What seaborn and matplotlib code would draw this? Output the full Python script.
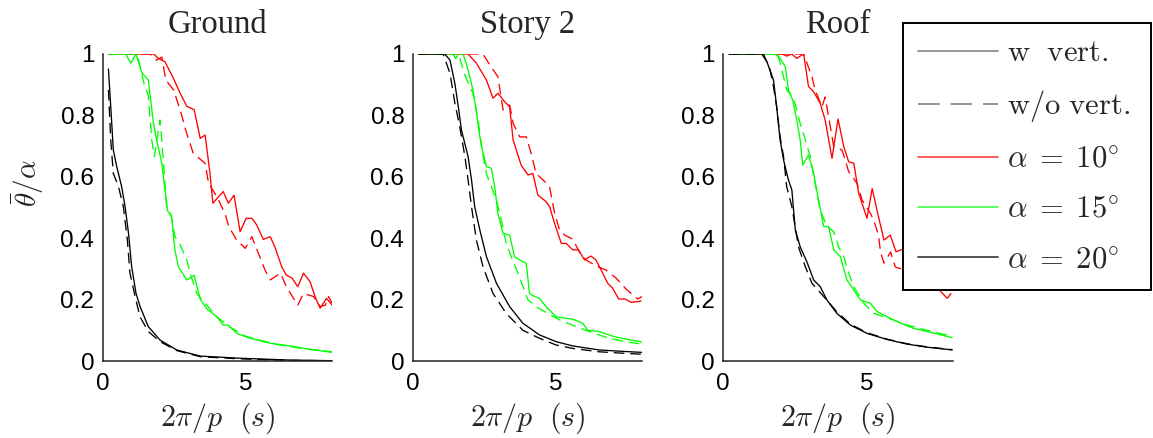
import numpy as np
import pandas as pd
import matplotlib
matplotlib.use("Agg")
import matplotlib.pyplot as plt
from matplotlib.lines import Line2D
import seaborn as sns

# ---------------- data ----------------
panels = ["Ground", "Story 2", "Roof"]
x_ticks = [0, 5]
x_tick_labels = ["0", "5"]
y_ticks = [0, 0.2, 0.4, 0.6, 0.8, 1.0]
y_tick_labels = ["0", "0.2", "0.4", "0.6", "0.8", "1"]

# Ground
g_a20_w_x = [0.2, 0.28, 0.37, 0.49, 0.66, 0.78, 0.9, 1.01, 1.16, 1.3, 1.59, 2.0, 2.58, 3.4, 4.79, 6.53, 8.0]
g_a20_w_y = [0.951, 0.829, 0.687, 0.633, 0.568, 0.503, 0.416, 0.307, 0.221, 0.178, 0.112, 0.068, 0.036, 0.016, 0.009, 0.003, 0.001]
g_a20_wo_x = [0.2, 0.28, 0.37, 0.55, 0.72, 0.86, 0.95, 1.13, 1.3, 1.59, 2.0, 2.58, 3.4, 4.79, 6.53, 8.0]
g_a20_wo_y = [0.883, 0.72, 0.611, 0.568, 0.503, 0.394, 0.286, 0.21, 0.144, 0.096, 0.063, 0.034, 0.014, 0.007, 0.002, 0.001]
g_a15_w_x = [0.2, 0.8, 0.98, 1.16, 1.36, 1.59, 1.77, 1.88, 2.06, 2.17, 2.26, 2.4, 2.52, 2.64, 2.93, 3.19, 3.4, 3.63, 3.98, 4.2, 4.38, 4.67, 5.14, 5.84, 6.53, 7.23, 8.0]
g_a15_w_y = [1, 1, 0.97, 1, 0.94, 0.915, 0.774, 0.72, 0.644, 0.557, 0.49, 0.47, 0.36, 0.307, 0.264, 0.279, 0.2, 0.17, 0.144, 0.117, 0.117, 0.09, 0.074, 0.058, 0.049, 0.038, 0.028]
g_a15_wo_x = [0.2, 1.2, 1.45, 1.59, 1.71, 1.8, 2.0, 2.06, 2.17, 2.23, 2.38, 2.52, 2.7, 2.93, 3.05, 3.28, 3.57, 3.98, 4.4, 5.0, 6.0, 7.0, 8.0]
g_a15_wo_y = [1, 1, 0.9, 0.866, 0.72, 0.666, 0.785, 0.72, 0.58, 0.503, 0.476, 0.405, 0.378, 0.33, 0.286, 0.22, 0.188, 0.144, 0.112, 0.08, 0.055, 0.04, 0.03]
g_a10_w_x = [0.2, 1.77, 1.94, 2.17, 2.47, 2.7, 2.93, 3.19, 3.4, 3.57, 3.74, 3.84, 4.2, 4.38, 4.58, 4.79, 5.0, 5.2, 5.37, 5.6, 5.84, 6.0, 6.24, 6.4, 6.6, 6.8, 7.0, 7.23, 7.4, 7.58, 7.8, 8.0]
g_a10_w_y = [1, 1, 0.986, 0.975, 0.92, 0.872, 0.83, 0.818, 0.725, 0.736, 0.611, 0.514, 0.552, 0.514, 0.54, 0.421, 0.465, 0.465, 0.443, 0.396, 0.405, 0.372, 0.307, 0.28, 0.27, 0.242, 0.286, 0.258, 0.21, 0.172, 0.204, 0.182]
g_a10_wo_x = [0.2, 1.65, 1.88, 2.06, 2.2, 2.47, 2.7, 2.93, 3.16, 3.57, 3.69, 3.98, 4.26, 4.4, 4.67, 4.97, 5.2, 5.43, 5.66, 5.84, 6.2, 6.4, 6.8, 7.0, 7.35, 7.58, 7.76, 7.87, 8.0]
g_a10_wo_y = [1, 1, 0.98, 0.99, 0.915, 0.883, 0.818, 0.74, 0.676, 0.644, 0.579, 0.535, 0.481, 0.437, 0.394, 0.367, 0.405, 0.35, 0.296, 0.264, 0.286, 0.242, 0.182, 0.22, 0.21, 0.177, 0.182, 0.21, 0.188]

# Story 2
s_a20_w_x = [0.2, 1.12, 1.3, 1.47, 1.59, 1.7, 1.93, 2.05, 2.16, 2.34, 2.57, 2.92, 3.38, 3.84, 4.42, 5.0, 5.58, 6.5, 7.2, 8.0]
s_a20_w_y = [1, 1, 0.98, 0.904, 0.828, 0.752, 0.666, 0.59, 0.503, 0.427, 0.34, 0.253, 0.177, 0.123, 0.085, 0.063, 0.049, 0.036, 0.032, 0.028]
s_a20_wo_x = [0.2, 1.06, 1.3, 1.47, 1.64, 1.82, 1.93, 2.05, 2.22, 2.45, 2.8, 3.26, 3.84, 4.42, 5.0, 5.58, 6.5, 7.2, 8.0]
s_a20_wo_y = [1, 1, 0.937, 0.84, 0.763, 0.666, 0.59, 0.503, 0.394, 0.307, 0.22, 0.155, 0.1, 0.074, 0.052, 0.041, 0.03, 0.026, 0.022]
s_a15_w_x = [0.2, 1.76, 1.93, 2.1, 2.22, 2.34, 2.43, 2.57, 2.74, 2.86, 2.97, 3.15, 3.38, 3.55, 3.73, 3.96, 4.07, 4.25, 4.42, 4.65, 5.0, 5.58, 5.93, 6.1, 6.5, 7.0, 7.5, 8.0]
s_a15_w_y = [1, 1, 0.948, 0.883, 0.812, 0.73, 0.687, 0.633, 0.628, 0.568, 0.481, 0.416, 0.41, 0.34, 0.329, 0.318, 0.22, 0.21, 0.204, 0.177, 0.144, 0.136, 0.123, 0.1, 0.096, 0.08, 0.07, 0.062]
s_a15_wo_x = [0.2, 1.4, 1.5, 1.6, 1.82, 2.1, 2.28, 2.4, 2.57, 2.92, 3.09, 3.26, 3.5, 3.67, 4.02, 4.3, 4.71, 5.12, 5.69, 6.16, 6.8, 7.4, 8.0]
s_a15_wo_y = [1, 1, 0.985, 1, 0.93, 0.872, 0.785, 0.698, 0.61, 0.524, 0.459, 0.383, 0.324, 0.286, 0.199, 0.177, 0.155, 0.134, 0.112, 0.096, 0.075, 0.063, 0.055]
s_a10_w_x = [0.2, 1.93, 2.22, 2.57, 2.8, 2.97, 3.2, 3.38, 3.5, 3.78, 4.02, 4.19, 4.36, 4.65, 4.77, 4.94, 5.18, 5.35, 5.58, 5.78, 5.99, 6.21, 6.39, 6.57, 6.8, 6.97, 7.18, 7.41, 7.61, 7.96]
s_a10_w_y = [1, 1, 0.97, 0.915, 0.856, 0.872, 0.845, 0.828, 0.72, 0.638, 0.606, 0.611, 0.541, 0.519, 0.503, 0.45, 0.383, 0.383, 0.362, 0.362, 0.329, 0.342, 0.329, 0.296, 0.253, 0.237, 0.202, 0.202, 0.191, 0.195]
s_a10_wo_x = [0.2, 2.45, 2.69, 2.97, 3.15, 3.38, 3.5, 3.73, 3.96, 4.13, 4.3, 4.54, 4.77, 4.95, 5.12, 5.3, 5.58, 5.81, 6.04, 6.4, 6.74, 7.09, 7.44, 7.84, 8.0]
s_a10_wo_y = [1, 1, 0.964, 0.926, 0.818, 0.834, 0.774, 0.73, 0.73, 0.676, 0.611, 0.59, 0.568, 0.48, 0.427, 0.41, 0.397, 0.355, 0.329, 0.31, 0.296, 0.27, 0.234, 0.202, 0.21]

# Roof
r_a20_w_x = [0.2, 1.34, 1.52, 1.75, 1.86, 1.98, 2.1, 2.27, 2.39, 2.51, 2.68, 2.91, 3.15, 3.38, 3.61, 3.96, 4.43, 5.01, 5.71, 6.41, 7.1, 7.98]
r_a20_w_y = [1, 1, 0.975, 0.915, 0.828, 0.72, 0.655, 0.59, 0.557, 0.427, 0.372, 0.324, 0.264, 0.242, 0.199, 0.155, 0.117, 0.09, 0.07, 0.055, 0.045, 0.036]
r_a20_wo_x = [0.2, 1.4, 1.63, 1.75, 1.86, 1.98, 2.1, 2.21, 2.39, 2.62, 2.86, 3.09, 3.5, 3.96, 4.43, 5.01, 5.71, 6.41, 7.1, 7.98]
r_a20_wo_y = [1, 1, 0.948, 0.894, 0.828, 0.73, 0.666, 0.568, 0.503, 0.372, 0.307, 0.253, 0.21, 0.16, 0.12, 0.092, 0.071, 0.056, 0.046, 0.037]
r_a15_w_x = [0.2, 1.8, 1.98, 2.16, 2.27, 2.42, 2.56, 2.68, 2.77, 2.97, 3.15, 3.32, 3.5, 3.67, 3.85, 4.08, 4.31, 4.55, 4.78, 5.13, 5.36, 5.71, 6.18, 6.64, 7.11, 7.46, 7.98]
r_a15_w_y = [1, 1, 0.986, 0.959, 0.883, 0.85, 0.785, 0.72, 0.638, 0.671, 0.611, 0.524, 0.438, 0.438, 0.362, 0.34, 0.264, 0.231, 0.199, 0.188, 0.161, 0.144, 0.123, 0.106, 0.096, 0.088, 0.076]
r_a15_wo_x = [0.2, 1.9, 2.04, 2.21, 2.45, 2.68, 2.86, 3.03, 3.2, 3.38, 3.61, 3.85, 4.02, 4.2, 4.37, 4.55, 4.9, 5.24, 5.77, 6.41, 7.11, 7.98]
r_a15_wo_y = [1, 1, 0.948, 0.883, 0.856, 0.774, 0.72, 0.666, 0.579, 0.492, 0.438, 0.421, 0.372, 0.34, 0.286, 0.242, 0.188, 0.155, 0.139, 0.117, 0.1, 0.08]
r_a10_w_x = [0.2, 2.05, 2.21, 2.38, 2.56, 2.8, 2.97, 3.15, 3.38, 3.55, 3.79, 4.0, 4.2, 4.37, 4.55, 4.72, 5.01, 5.19, 5.36, 5.6, 5.82, 6.02, 6.25, 6.5, 6.8, 7.1, 7.4, 7.58, 7.81, 7.93]
r_a10_w_y = [1, 1, 0.993, 1, 0.986, 1, 0.894, 0.877, 0.839, 0.785, 0.66, 0.788, 0.698, 0.649, 0.644, 0.546, 0.465, 0.562, 0.49, 0.394, 0.41, 0.356, 0.364, 0.33, 0.31, 0.28, 0.25, 0.226, 0.204, 0.22]
r_a10_wo_x = [0.2, 2.8, 3.09, 3.2, 3.44, 3.55, 3.67, 3.85, 4.14, 4.37, 4.66, 4.84, 5.13, 5.24, 5.41, 5.48, 5.6, 5.83, 6.0, 6.2, 6.5, 7.0, 7.5, 7.8, 8.0]
r_a10_wo_y = [1, 1, 0.926, 0.883, 0.828, 0.86, 0.796, 0.698, 0.687, 0.617, 0.579, 0.524, 0.481, 0.459, 0.41, 0.355, 0.319, 0.355, 0.306, 0.3, 0.29, 0.27, 0.25, 0.235, 0.24]

legend_labels = [r"$\mathrm{w\ \ vert.}$", r"$\mathrm{w/o\ vert.}$",
                 r"$\alpha\;=\;10^{\circ}$", r"$\alpha\;=\;15^{\circ}$", r"$\alpha\;=\;20^{\circ}$"]

# ---------------- styling ----------------
sns.set_theme(style="white")
plt.rcParams["font.family"] = ["Liberation Sans", "DejaVu Sans"]
plt.rcParams["mathtext.fontset"] = "cm"

RED, GREEN, BLACK = "#ff0000", "#00ff00", "#000000"
LW = 0.95
DASH = (0, (8, 4.5))

curves = {
    "Ground": [(g_a10_w_x, g_a10_w_y, g_a10_wo_x, g_a10_wo_y, RED),
               (g_a15_w_x, g_a15_w_y, g_a15_wo_x, g_a15_wo_y, GREEN),
               (g_a20_w_x, g_a20_w_y, g_a20_wo_x, g_a20_wo_y, BLACK)],
    "Story 2": [(s_a10_w_x, s_a10_w_y, s_a10_wo_x, s_a10_wo_y, RED),
                (s_a15_w_x, s_a15_w_y, s_a15_wo_x, s_a15_wo_y, GREEN),
                (s_a20_w_x, s_a20_w_y, s_a20_wo_x, s_a20_wo_y, BLACK)],
    "Roof": [(r_a10_w_x, r_a10_w_y, r_a10_wo_x, r_a10_wo_y, RED),
             (r_a15_w_x, r_a15_w_y, r_a15_wo_x, r_a15_wo_y, GREEN),
             (r_a20_w_x, r_a20_w_y, r_a20_wo_x, r_a20_wo_y, BLACK)],
}

W, H = 1153, 438
fig = plt.figure(figsize=(W / 100, H / 100), dpi=100)
lefts_px = [102.7, 412.7, 723.3]
ax_w_px, ax_top_px, ax_bot_px = 229.5, 54, 361

for i, name in enumerate(panels):
    ax = fig.add_axes([lefts_px[i] / W, 1 - ax_bot_px / H, ax_w_px / W, (ax_bot_px - ax_top_px) / H])
    for xw, yw, xo, yo, c in curves[name]:
        sns.lineplot(x=xo, y=yo, ax=ax, color=c, linewidth=LW, linestyle=DASH,
                     sort=False, estimator=None, legend=False)
        sns.lineplot(x=xw, y=yw, ax=ax, color=c, linewidth=LW,
                     sort=False, estimator=None, legend=False)
    ax.set_xlim(0, 8)
    ax.set_ylim(0, 1)
    ax.set_xticks(x_ticks)
    ax.set_xticklabels(x_tick_labels)
    ax.set_yticks(y_ticks)
    ax.set_yticklabels(y_tick_labels)
    ax.tick_params(direction="in", length=4, width=0.8, colors="#222222",
                   labelsize=17.5, labelcolor="black", pad=6)
    ax.tick_params(axis="x", pad=9)
    sns.despine(ax=ax)
    for sp in ["left", "bottom"]:
        ax.spines[sp].set_color("#222222")
        ax.spines[sp].set_linewidth(1.1)
    ax.set_title(name, fontsize=23.5, family=["Liberation Serif"], pad=15)
    ax.set_xlabel(r"$2\pi/p\ \ (s)$", fontsize=21.5, labelpad=4)
    ax.set_ylabel("")
    if i == 0:
        ax.set_ylabel(r"$\bar{\theta}/\alpha$", fontsize=21)
        ax.yaxis.set_label_coords(-0.245, 0.58)
    ax.patch.set_alpha(0)

handles = [
    Line2D([], [], color="#8c8c8c", lw=1.3),
    Line2D([], [], color="#8c8c8c", lw=1.3, linestyle=(0, (12, 6))),
    Line2D([], [], color="#ff4d4d", lw=1.3),
    Line2D([], [], color="#4dff4d", lw=1.3),
    Line2D([], [], color="#444444", lw=1.3),
]
leg = fig.legend(handles, legend_labels, loc="upper left",
                 bbox_to_anchor=(903 / W, 1 - 288 / H, 248 / W, 265 / H), mode="expand",
                 bbox_transform=fig.transFigure, fontsize=22, frameon=True, fancybox=False,
                 framealpha=1, edgecolor="black", borderpad=0.5, handlelength=2.6,
                 handletextpad=0.3, labelspacing=0.66, borderaxespad=0)
leg.get_frame().set_linewidth(1.4)

fig.savefig("out.png", dpi=100)
